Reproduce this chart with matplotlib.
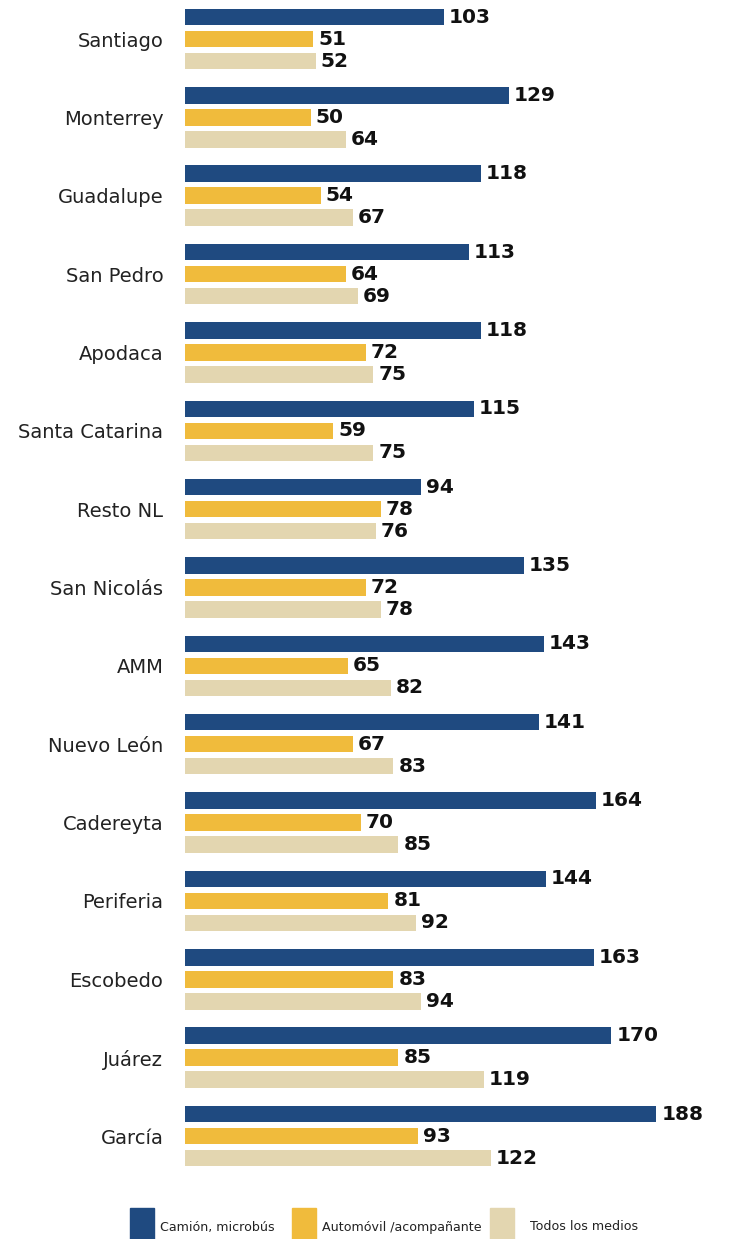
import numpy as np
import matplotlib.pyplot as plt
from matplotlib.patches import Rectangle

# datos por municipio
municipios = ["Santiago", "Monterrey", "Guadalupe", "San Pedro", "Apodaca",
              "Santa Catarina", "Resto NL", "San Nicolás", "AMM", "Nuevo León",
              "Cadereyta", "Periferia", "Escobedo", "Juárez", "García"]
camion = [103, 129, 118, 113, 118, 115, 94, 135, 143, 141, 164, 144, 163, 170, 188]
automovil = [51, 50, 54, 64, 72, 59, 78, 72, 65, 67, 70, 81, 83, 85, 93]
todos = [52, 64, 67, 69, 75, 75, 76, 78, 82, 83, 85, 92, 94, 119, 122]

series = ["Camión, microbús", "Automóvil /acompañante", "Todos los medios"]
colores = ["#1f4a80", "#f0bb3c", "#e3d6b0"]

W, H = 732, 1239
fig = plt.figure(figsize=(W / 100, H / 100), dpi=100, facecolor="white")

x0 = 185.5
paso = 78.36      # px entre grupos
centro0 = 39.0    # px del primer grupo
ax = fig.add_axes([x0 / W, 0, 1 - x0 / W, 1])

y = np.arange(len(municipios))
desp = 22.0 / paso
alto = 16.5 / paso

for k, (vals, col) in enumerate(zip([camion, automovil, todos], colores)):
    barras = ax.barh(y + (k - 1) * desp, vals, height=alto, color=col)
    ax.bar_label(barras, padding=3.5, fontsize=14.5, fontweight="bold", color="#111111")

ax.set_xlim(0, (W - x0) / 2.505)
ax.set_ylim((H - centro0) / paso, -centro0 / paso)
ax.set_yticks(y)
ax.set_yticklabels(municipios, fontsize=14, color="#222222")
ax.tick_params(axis="y", length=0, pad=16)
ax.set_xticks([])
for s in ax.spines.values():
    s.set_visible(False)

# leyenda
cuadros = [130, 292, 490]
textos_x = [160, 322, 530]
for cx, tx, col, nombre in zip(cuadros, textos_x, colores, series):
    fig.patches.append(Rectangle((cx / W, 0), 24 / W, (H - 1208) / H,
                                 transform=fig.transFigure, color=col))
    fig.text(tx / W, 1 - 1227 / H, nombre, fontsize=9.1, color="#222222",
             va="center", ha="left")

fig.savefig("out.png", dpi=100, facecolor="white")
